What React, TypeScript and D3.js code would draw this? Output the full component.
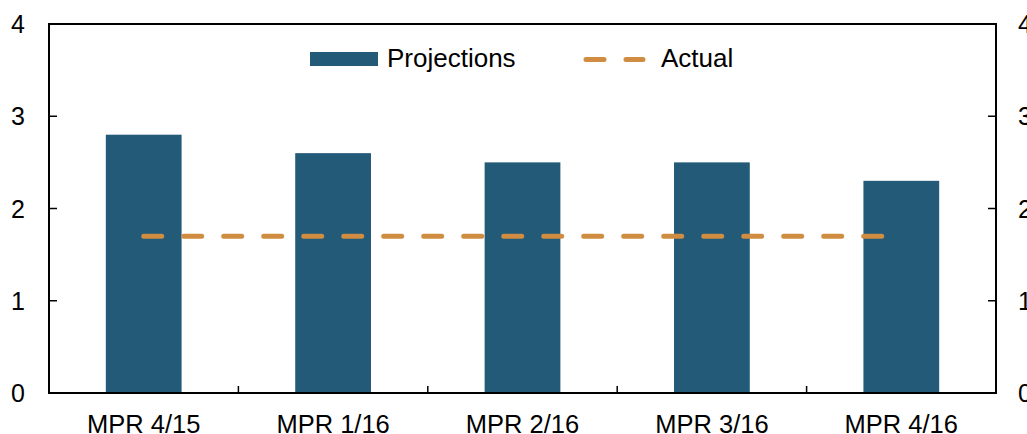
import React from "react";
import * as d3 from "d3";

const categories: string[] = ["MPR 4/15", "MPR 1/16", "MPR 2/16", "MPR 3/16", "MPR 4/16"];
const projections: number[] = [2.8, 2.6, 2.5, 2.5, 2.3];
const actual: number[] = [1.7, 1.7, 1.7, 1.7, 1.7];
const yTicks: number[] = [0, 1, 2, 3, 4];
const legendLabels: string[] = ["Projections", "Actual"];

const W = 1027;
const H = 434;
const M = { left: 49, right: 996, top: 24, bottom: 393 };
const BAR = "#235a78";
const LINE = "#d08c40";
const FONT = "Liberation Sans, Arial, sans-serif";

export default function App() {
  const x = d3.scaleBand<string>().domain(categories).range([M.left, M.right]).paddingInner(0).paddingOuter(0);
  const y = d3.scaleLinear().domain([0, 4]).range([M.bottom, M.top]);
  const bw = x.bandwidth() * 0.4;
  const line = d3
    .line<number>()
    .x((_, i) => (x(categories[i]) as number) + x.bandwidth() / 2)
    .y((d) => y(d));

  return (
    <svg width={W} height={H} style={{ position: "absolute", left: 0, top: 0, background: "#fff" }} fontFamily={FONT}>
      {projections.map((v, i) => (
        <rect
          key={i}
          x={(x(categories[i]) as number) + x.bandwidth() / 2 - bw / 2}
          y={y(v)}
          width={bw}
          height={y(0) - y(v)}
          fill={BAR}
        />
      ))}
      <path
        d={line(actual) || ""}
        fill="none"
        stroke={LINE}
        strokeWidth={5}
        strokeDasharray="18 22"
        strokeLinecap="round"
      />
      {/* frame */}
      <rect x={M.left} y={M.top} width={M.right - M.left} height={M.bottom - M.top} fill="none" stroke="#000" strokeWidth={2} />
      {/* y ticks and labels, both sides */}
      {yTicks.map((t) => (
        <g key={t}>
          <line x1={M.left} x2={M.left + 8} y1={y(t)} y2={y(t)} stroke="#000" strokeWidth={1.5} />
          <line x1={M.right - 8} x2={M.right} y1={y(t)} y2={y(t)} stroke="#000" strokeWidth={1.5} />
          <text x={25} y={y(t)} dy="0.36em" textAnchor="end" fontSize={25} fill="#000">
            {t}
          </text>
          <text x={1018} y={y(t)} dy="0.36em" textAnchor="start" fontSize={25} fill="#000">
            {t}
          </text>
        </g>
      ))}
      {/* category boundaries */}
      {categories.slice(1).map((c) => (
        <line key={c} x1={x(c)} x2={x(c)} y1={M.bottom} y2={M.bottom - 7} stroke="#000" strokeWidth={1.5} />
      ))}
      {categories.map((c) => (
        <text key={c} x={(x(c) as number) + x.bandwidth() / 2} y={433} textAnchor="middle" fontSize={25.5} fill="#000">
          {c}
        </text>
      ))}
      {/* legend */}
      <rect x={310} y={52} width={68} height={14} fill={BAR} />
      <text x={387} y={67} fontSize={26} fill="#000">
        {legendLabels[0]}
      </text>
      <line x1={586} x2={643} y1={59.5} y2={59.5} stroke={LINE} strokeWidth={5} strokeDasharray="18 22" strokeLinecap="round" />
      <text x={661} y={67} fontSize={26} fill="#000">
        {legendLabels[1]}
      </text>
    </svg>
  );
}
